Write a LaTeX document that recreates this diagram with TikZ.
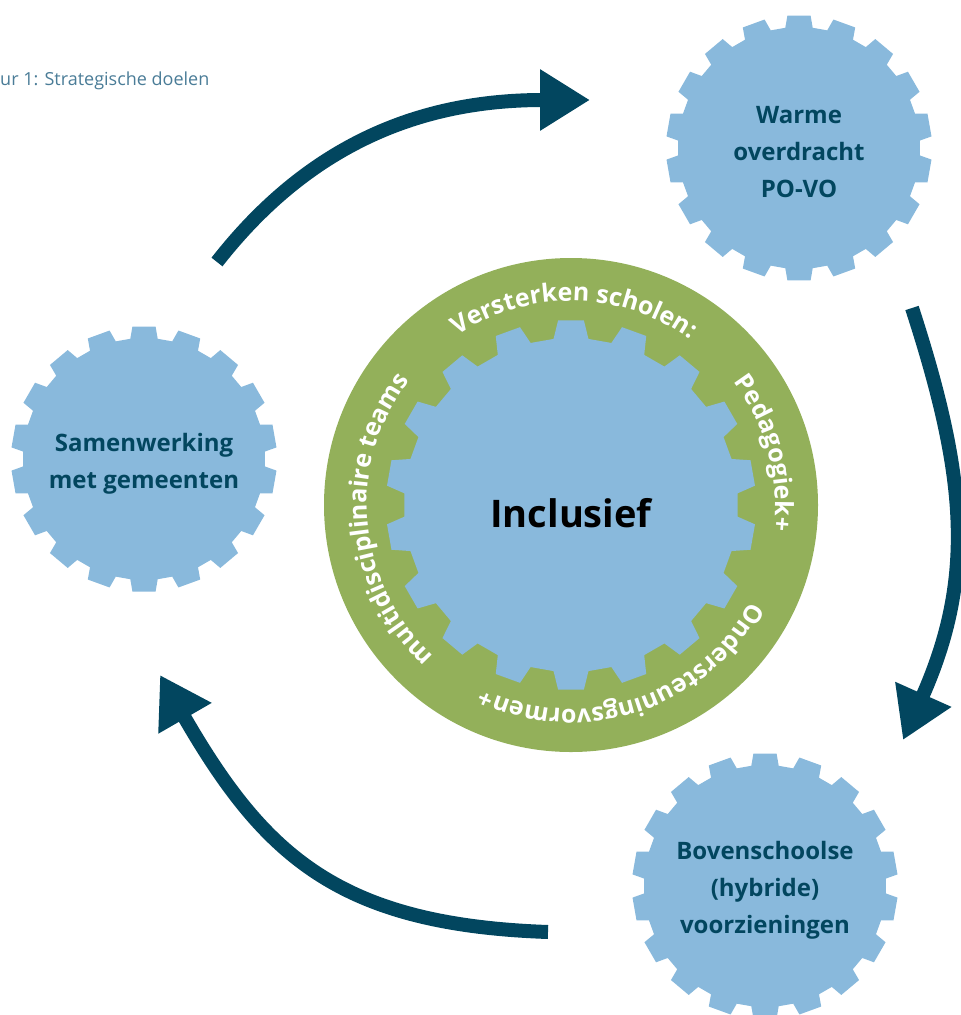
\documentclass[tikz,border=0pt]{standalone}
\usepackage{fontspec}
\setmainfont{Open Sans}
\usetikzlibrary{calc,arrows.meta,decorations.text}

\definecolor{gearblue}{HTML}{89B9DC}
\definecolor{ringgreen}{HTML}{93B05A}
\definecolor{darkteal}{HTML}{02465F}
\definecolor{captiongrey}{HTML}{4A7C97}

\newcommand{\ringfont}{\color{white}\bfseries\fontsize{25}{25}\selectfont}

\newcommand{\gearshape}[5]{%
  \fill[gearblue,shift={(#1)}] (90-#4:#2)
    \foreach \a in {90,110,...,430} {
      -- (\a-#4:#2) -- (\a-#5:#3) -- (\a+#5:#3) -- (\a+#4:#2)
    } -- cycle;}

\newcommand{\ringtext}[4]{%
  \path[decorate,decoration={text along path,text align=center,
      text={|\ringfont|#4}}]
    ($(C)+(#1:#3)$) arc[start angle=#1,end angle=#2,radius=#3];}

\begin{document}
\begin{tikzpicture}[x=1pt,y=1pt,
    geartext/.style={align=center,text=darkteal,font=\bfseries\fontsize{24}{37}\selectfont},
    flow/.style={draw=darkteal,line width=14pt,-{Triangle[length=50pt,width=58pt]}}]
  \useasboundingbox (0,0) rectangle (961,-1015);

  \coordinate (C) at (571,-505);
  \coordinate (W) at (799,-148);
  \coordinate (S) at (144,-459);
  \coordinate (B) at (765,-886);

  \node[anchor=base west,inner sep=0pt,text=captiongrey,font=\fontsize{18}{18}\selectfont] (caption) at (0,-85) {ur 1: Strategische doelen};

  \fill[ringgreen] (C) circle[radius=247];
  \gearshape{C}{167}{185}{6}{4}
  \gearshape{W}{121}{133}{6.5}{5}
  \gearshape{S}{121}{133}{6.5}{5}
  \gearshape{B}{121}{133}{6.5}{5}

  \ringtext{140}{38}{204}{Versterken scholen:}
  \ringtext{45}{-15}{204}{Pedagogiek+}
  \ringtext{-15}{-129}{204}{Ondersteuningsvormen+}
  \ringtext{240}{130}{204}{multidisciplinaire teams}

  \node[font=\bfseries\fontsize{38}{38}\selectfont] (incl) at ($(C)+(0,-8)$) {Inclusief};
  \node[geartext] (warme) at ($(W)+(0,-4)$) {Warme\\overdracht\\PO-VO};
  \node[geartext] (samen) at ($(S)+(0,-5)$) {Samenwerking\\met gemeenten};
  \node[geartext] (boven) at ($(B)+(0,-4)$) {Bovenschoolse\\(hybride)\\voorzieningen};

  \coordinate (a1s) at (217,-262);
  \coordinate (a1e) at (590,-100);
  \coordinate (a2s) at (912,-308);
  \coordinate (a2e) at (903,-740);
  \coordinate (a3s) at (548,-932);
  \coordinate (a3e) at (160,-675);

  \draw[flow] (a1s) to[out=52,in=180] (a1e);
  \draw[flow] (a2s) to[out=-72,in=66,looseness=1.05] (a2e);
  \draw[flow] (a3s) to[out=178,in=-60,looseness=1.15] (a3e);
\end{tikzpicture}
\end{document}
